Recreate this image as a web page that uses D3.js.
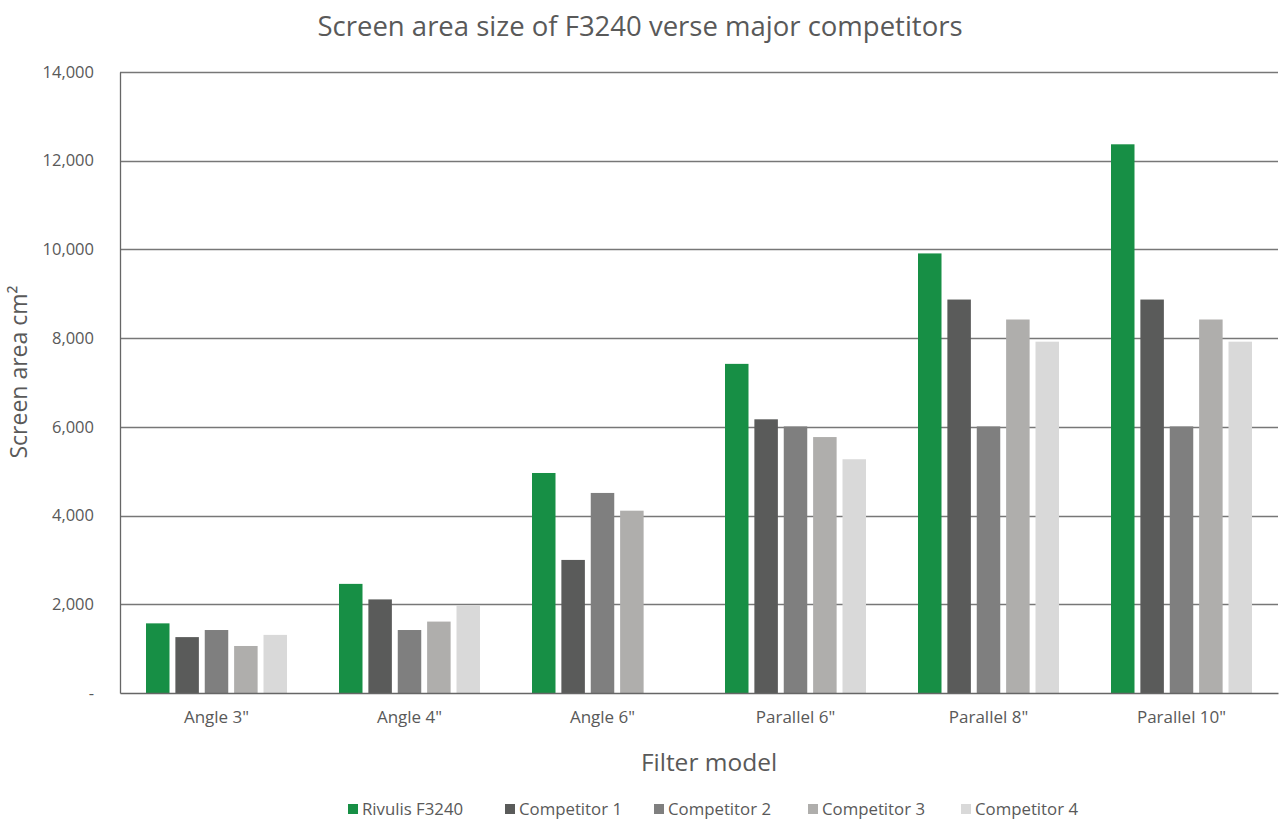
<!DOCTYPE html>
<html>
<head>
<meta charset="utf-8">
<script src="https://cdn.jsdelivr.net/npm/d3@7"></script>
<style>
  html, body { margin: 0; padding: 0; background: #fff; }
  svg text { font-family: "Open Sans", "Noto Sans", sans-serif; fill: #595959; }
</style>
</head>
<body>
<svg id="chart" width="1280" height="824"></svg>
<script>
// Data
const categories = ['Angle 3"', 'Angle 4"', 'Angle 6"', 'Parallel 6"', 'Parallel 8"', 'Parallel 10"'];
const seriesNames = ["Rivulis F3240", "Competitor 1", "Competitor 2", "Competitor 3", "Competitor 4"];
const rivulis     = [1570, 2460, 4960, 7420, 9910, 12370];
const competitor1 = [1260, 2110, 3000, 6170, 8870, 8870];
const competitor2 = [1420, 1420, 4510, 6010, 6010, 6010];
const competitor3 = [1060, 1610, 4110, 5770, 8420, 8420];
const competitor4 = [1310, 1980, 0,    5270, 7920, 7920];
const yTicks = [0, 2000, 4000, 6000, 8000, 10000, 12000, 14000];
const colors = ["#178f45", "#5a5b5a", "#7f7f7f", "#afaeac", "#d9d9d9"];

const seriesValues = [rivulis, competitor1, competitor2, competitor3, competitor4];

const svg = d3.select("#chart");
const margin = { left: 120, right: 2, top: 72, bottom: 131 };
const W = 1280, H = 824;

const x0 = d3.scaleBand().domain(categories).range([margin.left, W - margin.right]).padding(0);
const x1 = d3.scaleBand().domain(seriesNames).range([-70.5, 70.5]).paddingInner(0.2).paddingOuter(0);
const y = d3.scaleLinear().domain([0, 14000]).range([H - margin.bottom, margin.top]);

// gridlines
svg.append("g")
  .selectAll("line")
  .data(yTicks.filter(d => d > 0))
  .enter()
  .append("line")
  .attr("x1", margin.left)
  .attr("x2", W - margin.right)
  .attr("y1", d => Math.round(y(d)) + 0.5)
  .attr("y2", d => Math.round(y(d)) + 0.5)
  .attr("stroke", "#777")
  .attr("stroke-width", 1.3);

// bars
const groups = svg.append("g")
  .selectAll("g")
  .data(categories)
  .enter()
  .append("g")
  .attr("transform", d => `translate(${x0(d) + x0.bandwidth() / 2},0)`);

groups.selectAll("rect")
  .data((c, i) => seriesNames.map((s, j) => ({ s, j, v: seriesValues[j][i] })))
  .enter()
  .append("rect")
  .filter(d => d.v > 0)
  .attr("x", d => x1(d.s))
  .attr("width", x1.bandwidth())
  .attr("y", d => y(d.v))
  .attr("height", d => y(0) - y(d.v))
  .attr("fill", d => colors[d.j]);

// axes
const yAxis = d3.axisLeft(y)
  .tickValues(yTicks)
  .tickSize(0)
  .tickPadding(26)
  .tickFormat(d => d === 0 ? "-" : d3.format(",")(d));

svg.append("g")
  .attr("transform", `translate(${margin.left},0)`)
  .call(yAxis)
  .call(g => g.select(".domain").attr("stroke", "#666").attr("stroke-width", 1.3))
  .selectAll("text")
  .attr("font-size", "16.5px")
  .attr("fill", "#595959");

const xAxis = d3.axisBottom(x0).tickSize(0).tickPadding(18);
svg.append("g")
  .attr("transform", `translate(0,${y(0)})`)
  .call(xAxis)
  .call(g => g.select(".domain").attr("stroke", "#666").attr("stroke-width", 1.3))
  .selectAll("text")
  .attr("font-size", "17px")
  .attr("fill", "#595959");

// title
svg.append("text")
  .attr("x", 640)
  .attr("y", 36)
  .attr("text-anchor", "middle")
  .attr("font-size", "27.5px")
  .text("Screen area size of F3240 verse major competitors");

// axis titles
svg.append("text")
  .attr("x", 709)
  .attr("y", 771)
  .attr("text-anchor", "middle")
  .attr("font-size", "24.5px")
  .text("Filter model");

svg.append("text")
  .attr("transform", "translate(27,372) rotate(-90)")
  .attr("text-anchor", "middle")
  .attr("font-size", "23px")
  .text("Screen area cm²");

// legend
const legend = svg.append("g")
  .selectAll("g")
  .data(seriesNames)
  .enter()
  .append("g")
  .attr("transform", (d, i) => `translate(${[348, 505, 654, 808, 961][i]},804)`);

legend.append("rect")
  .attr("width", 10)
  .attr("height", 10)
  .attr("fill", (d, i) => colors[i]);

legend.append("text")
  .attr("x", 14)
  .attr("y", 11)
  .attr("font-size", "16.8px")
  .text(d => d);
</script>
</body>
</html>
